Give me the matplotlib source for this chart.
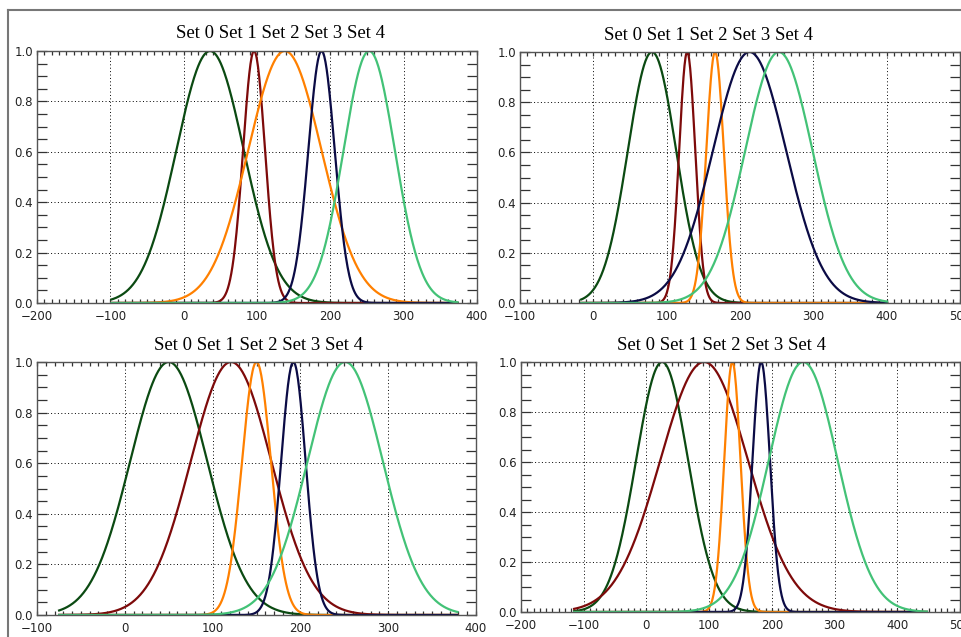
import numpy as np
import matplotlib
matplotlib.use("Agg")
import matplotlib.pyplot as plt
from matplotlib.lines import Line2D
from matplotlib.ticker import MultipleLocator

# one entry per panel: peak centre and width of each set
set_names = ["Set 0", "Set 1", "Set 2", "Set 3", "Set 4"]
set_colors = ["#0b4a12", "#7d0a0a", "#ff8000", "#0b0b45", "#43c277"]

centers_p1 = [36, 96, 138, 188, 253]
widths_p1 = [46, 15, 50, 18, 35]
centers_p2 = [80, 128, 166, 213, 253]
widths_p2 = [33, 11, 12, 50, 46]
centers_p3 = [50, 121, 150, 192, 251]
widths_p3 = [44, 46, 16.5, 14, 43]
centers_p4 = [25, 92, 137, 183, 250]
widths_p4 = [41.5, 70, 13, 14, 55]

# sampled x span of the curves and axis x range for each panel
span_p1, xlim_p1 = (-100, 375), (-200, 400)
span_p2, xlim_p2 = (-18, 402), (-100, 500)
span_p3, xlim_p3 = (-76, 380), (-100, 400)
span_p4, xlim_p4 = (-117, 449), (-200, 500)

W, H = 962, 637


def px_rect(left, top, right, bottom):
    return [left / W, 1 - bottom / H, (right - left) / W, (bottom - top) / H]


def draw_panel(fig, rect, centers, widths, span, xlim, title_xy):
    ax = fig.add_axes(rect)
    x = np.linspace(span[0], span[1], 600)
    for mu, sig, col in zip(centers, widths, set_colors):
        y = np.exp(-0.5 * ((x - mu) / sig) ** 2)
        ax.plot(x, y, color=col, lw=1.6, solid_capstyle="butt")
    ax.set_xlim(*xlim)
    ax.set_ylim(0, 1)
    ax.xaxis.set_major_locator(MultipleLocator(100))
    ax.xaxis.set_minor_locator(MultipleLocator(10))
    ax.yaxis.set_major_locator(MultipleLocator(0.2))
    ax.yaxis.set_minor_locator(MultipleLocator(0.05))
    ax.yaxis.set_major_formatter(plt.FuncFormatter(lambda v, p: f"{v:.1f}"))
    ax.xaxis.set_major_formatter(plt.FuncFormatter(lambda v, p: f"{v:.0f}".replace("-", "\u2212")))
    ax.tick_params(axis="both", which="both", direction="in", top=True, right=True,
                   colors="#333333", labelcolor="#222222", labelsize=8.5, width=0.9)
    ax.tick_params(axis="y", which="both", length=7, pad=3)
    ax.tick_params(axis="x", which="both", length=3, pad=5)
    ax.grid(True, which="major", color="black", linestyle=(0, (1, 2.5)), linewidth=0.7)
    for s in ax.spines.values():
        s.set_color("#555555")
        s.set_linewidth(1.0)
    fig.text(title_xy[0] / W, 1 - title_xy[1] / H, " ".join(set_names),
             ha="center", va="center", fontsize=13.5, family="Liberation Serif")
    return ax


fig = plt.figure(figsize=(W / 100, H / 100), dpi=100)

draw_panel(fig, px_rect(37, 51, 477, 303), centers_p1, widths_p1, span_p1, xlim_p1, (280, 33))
draw_panel(fig, px_rect(520, 52, 960, 303), centers_p2, widths_p2, span_p2, xlim_p2, (709, 35))
draw_panel(fig, px_rect(37, 362, 476, 615), centers_p3, widths_p3, span_p3, xlim_p3, (259, 346))
draw_panel(fig, px_rect(521, 362, 960, 612), centers_p4, widths_p4, span_p4, xlim_p4, (722, 346))

# grey window frame along the top and left edge
fig.add_artist(Line2D([8 / W, 1], [1 - 10 / H, 1 - 10 / H], color="#777777", lw=1.5,
                      transform=fig.transFigure))
fig.add_artist(Line2D([8 / W, 8 / W], [0, 1 - 10 / H], color="#777777", lw=1.5,
                      transform=fig.transFigure))

fig.savefig("out.png", dpi=100)
